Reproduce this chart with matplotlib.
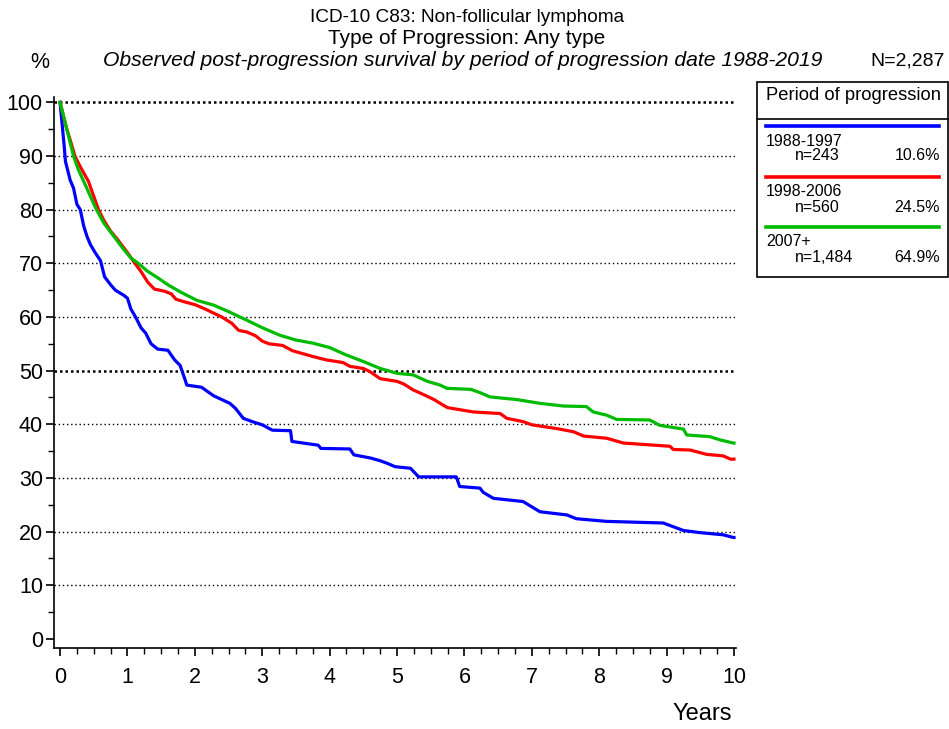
import matplotlib
matplotlib.use("Agg")
import matplotlib.pyplot as plt
from matplotlib.lines import Line2D
from matplotlib.patches import Rectangle
from matplotlib.ticker import MultipleLocator

plt.rcParams['font.family'] = ['Liberation Sans', 'DejaVu Sans']

# ---------------- data ----------------
blue_t = [0, 0.03, 0.06, 0.08, 0.12, 0.15, 0.2, 0.25, 0.3, 0.35, 0.4, 0.45, 0.52, 0.6, 0.66, 0.75,
          0.82, 0.95, 1.0, 1.05, 1.12, 1.2, 1.27, 1.35, 1.45, 1.6, 1.7, 1.78, 1.85, 1.88, 2.1, 2.2,
          2.28, 2.4, 2.52, 2.6, 2.72, 2.85, 3.0, 3.15, 3.42, 3.44, 3.83, 3.87, 4.3, 4.36, 4.61, 4.75,
          4.86, 4.97, 5.2, 5.32, 5.88, 5.93, 6.23, 6.28, 6.43, 6.87, 7.12, 7.52, 7.66, 8.11, 8.95,
          9.25, 9.5, 9.84, 9.99, 10]
blue_s = [100, 96, 92, 89, 87, 85.5, 84, 81, 80, 77, 75, 73.5, 72, 70.5, 67.5, 66,
          65, 64, 63.5, 61.5, 60, 58, 57, 55, 54, 53.8, 52, 51, 48.5, 47.3, 46.9, 46,
          45.3, 44.6, 43.9, 43, 41.1, 40.5, 39.9, 38.9, 38.8, 36.8, 36.1, 35.5, 35.4, 34.3, 33.7, 33.2,
          32.7, 32.1, 31.8, 30.2, 30.2, 28.4, 28.1, 27.3, 26.2, 25.6, 23.7, 23.1, 22.4, 21.9, 21.6,
          20.2, 19.8, 19.4, 18.9, 18.9]

red_t = [0, 0.1, 0.15, 0.22, 0.3, 0.42, 0.5, 0.57, 0.65, 0.75, 0.85, 1.0, 1.11, 1.2, 1.3, 1.4,
         1.55, 1.65, 1.72, 1.85, 2.0, 2.15, 2.28, 2.4, 2.55, 2.65, 2.77, 2.9, 3.0, 3.1, 3.3, 3.45,
         3.76, 3.95, 4.2, 4.3, 4.5, 4.6, 4.75, 5.0, 5.1, 5.24, 5.4, 5.55, 5.68, 5.75, 6.13, 6.53,
         6.63, 6.87, 7.0, 7.37, 7.62, 7.77, 8.11, 8.36, 9.05, 9.1, 9.35, 9.59, 9.84, 9.95, 10]
red_s = [100, 95, 93, 90, 88, 85.3, 82.5, 80, 78, 76, 74.5, 72, 70, 68.5, 66.5, 65.2,
         64.8, 64.3, 63.3, 62.8, 62.3, 61.5, 60.7, 60, 58.8, 57.5, 57.2, 56.5, 55.5, 55, 54.7, 53.7,
         52.6, 52, 51.5, 50.8, 50.4, 49.8, 48.5, 48, 47.5, 46.4, 45.5, 44.6, 43.6, 43.1, 42.3, 42.0,
         41.1, 40.5, 39.9, 39.2, 38.6, 37.8, 37.4, 36.5, 35.9, 35.3, 35.2, 34.4, 34.1, 33.5, 33.5]

green_t = [0, 0.1, 0.2, 0.27, 0.35, 0.45, 0.54, 0.65, 0.8, 0.95, 1.05, 1.16, 1.3, 1.45, 1.6, 1.78,
           2.03, 2.28, 2.5, 2.77, 3.0, 3.26, 3.5, 3.76, 4.0, 4.25, 4.5, 4.75, 5.0, 5.24, 5.45, 5.64,
           5.74, 6.1, 6.23, 6.38, 6.78, 7.12, 7.47, 7.81, 7.91, 8.11, 8.26, 8.75, 8.9, 9.25, 9.3,
           9.64, 9.79, 9.99, 10]
green_s = [100, 95, 90, 87.5, 85.3, 82.5, 80, 77.5, 75, 72.5, 71, 70, 68.5, 67.3, 66, 64.7,
           63.1, 62.2, 61, 59.4, 58, 56.6, 55.7, 55.1, 54.3, 52.9, 51.7, 50.4, 49.5, 49.2, 48, 47.3,
           46.7, 46.5, 45.9, 45.1, 44.6, 43.9, 43.4, 43.3, 42.3, 41.7, 40.9, 40.8, 39.8, 39.1, 38,
           37.7, 37.1, 36.5, 36.5]

periods = ["1988-1997", "1998-2006", "2007+"]
counts = ["n=243", "n=560", "n=1,484"]
shares = ["10.6%", "24.5%", "64.9%"]
colors = ["#0000ff", "#ff0000", "#00bb00"]

x_ticks = list(range(0, 11))
y_ticks = list(range(0, 101, 10))

# ---------------- figure ----------------
W, H = 949, 729
fig = plt.figure(figsize=(W / 100, H / 100), dpi=100)

def fx(px):
    return px / W

def fy(py):
    return 1 - py / H

ax = fig.add_axes([fx(54), fy(648), (736 - 54) / W, (648 - 97) / H])
ax.set_xlim(-0.09, 10.03)
ax.set_ylim(-1.7, 101)

for yv in y_ticks[1:]:
    bold = yv in (50, 100)
    ax.axhline(yv, color='black', linestyle=(0, (1, 1.2)) if bold else (0, (1, 2)),
               linewidth=1.8 if bold else 1.0, zorder=1)

for t, s, c in zip([blue_t, red_t, green_t], [blue_s, red_s, green_s], colors):
    ax.plot(t, s, color=c, linewidth=2.3, zorder=3)

for side in ['top', 'right']:
    ax.spines[side].set_visible(False)
ax.spines['left'].set_linewidth(1.2)
ax.spines['bottom'].set_linewidth(1.2)

ax.set_xticks(x_ticks)
ax.set_yticks(y_ticks)
ax.xaxis.set_minor_locator(MultipleLocator(0.25))
ax.yaxis.set_minor_locator(MultipleLocator(5))
ax.tick_params(axis='both', which='major', direction='out', length=6, width=1.2,
               labelsize=15.5, pad=2)
ax.tick_params(axis='both', which='minor', direction='out', length=4, width=1.0)
ax.tick_params(axis='x', which='major', pad=8)

# ---------------- titles ----------------
fig.text(fx(467), fy(17), "ICD-10 C83: Non-follicular lymphoma", ha='center', va='center', fontsize=13.7)
fig.text(fx(467), fy(38), "Type of Progression: Any type", ha='center', va='center', fontsize=15)
fig.text(fx(463), fy(61), "Observed post-progression survival by period of progression date 1988-2019",
         ha='center', va='center', fontsize=15.2, style='italic')
fig.text(fx(40), fy(63), "%", ha='center', va='center', fontsize=15.5)
fig.text(fx(945), fy(61), "N=2,287", ha='right', va='center', fontsize=14)
fig.text(fx(732), fy(714), "Years", ha='right', va='center', fontsize=17)

# ---------------- legend box ----------------
fig.add_artist(Rectangle((fx(757), fy(277)), (948 - 757) / W, (277 - 82) / H,
                         transform=fig.transFigure, fill=False, edgecolor='black', linewidth=1.2))
fig.add_artist(Line2D([fx(757), fx(948)], [fy(119), fy(119)], transform=fig.transFigure,
                      color='black', linewidth=1.2))
fig.text(fx(854), fy(96), "Period of progression", ha='center', va='center', fontsize=13.2)

line_y = [126, 177, 227]
for i in range(3):
    ly = line_y[i]
    fig.add_artist(Line2D([fx(766), fx(939)], [fy(ly), fy(ly)], transform=fig.transFigure,
                          color=colors[i], linewidth=2.6))
    fig.text(fx(766), fy(ly + 15), periods[i], ha='left', va='center', fontsize=11.5)
    fig.text(fx(795), fy(ly + 30), counts[i], ha='left', va='center', fontsize=11.5)
    fig.text(fx(940), fy(ly + 30), shares[i], ha='right', va='center', fontsize=11.5)

fig.savefig("out.png", dpi=100)
